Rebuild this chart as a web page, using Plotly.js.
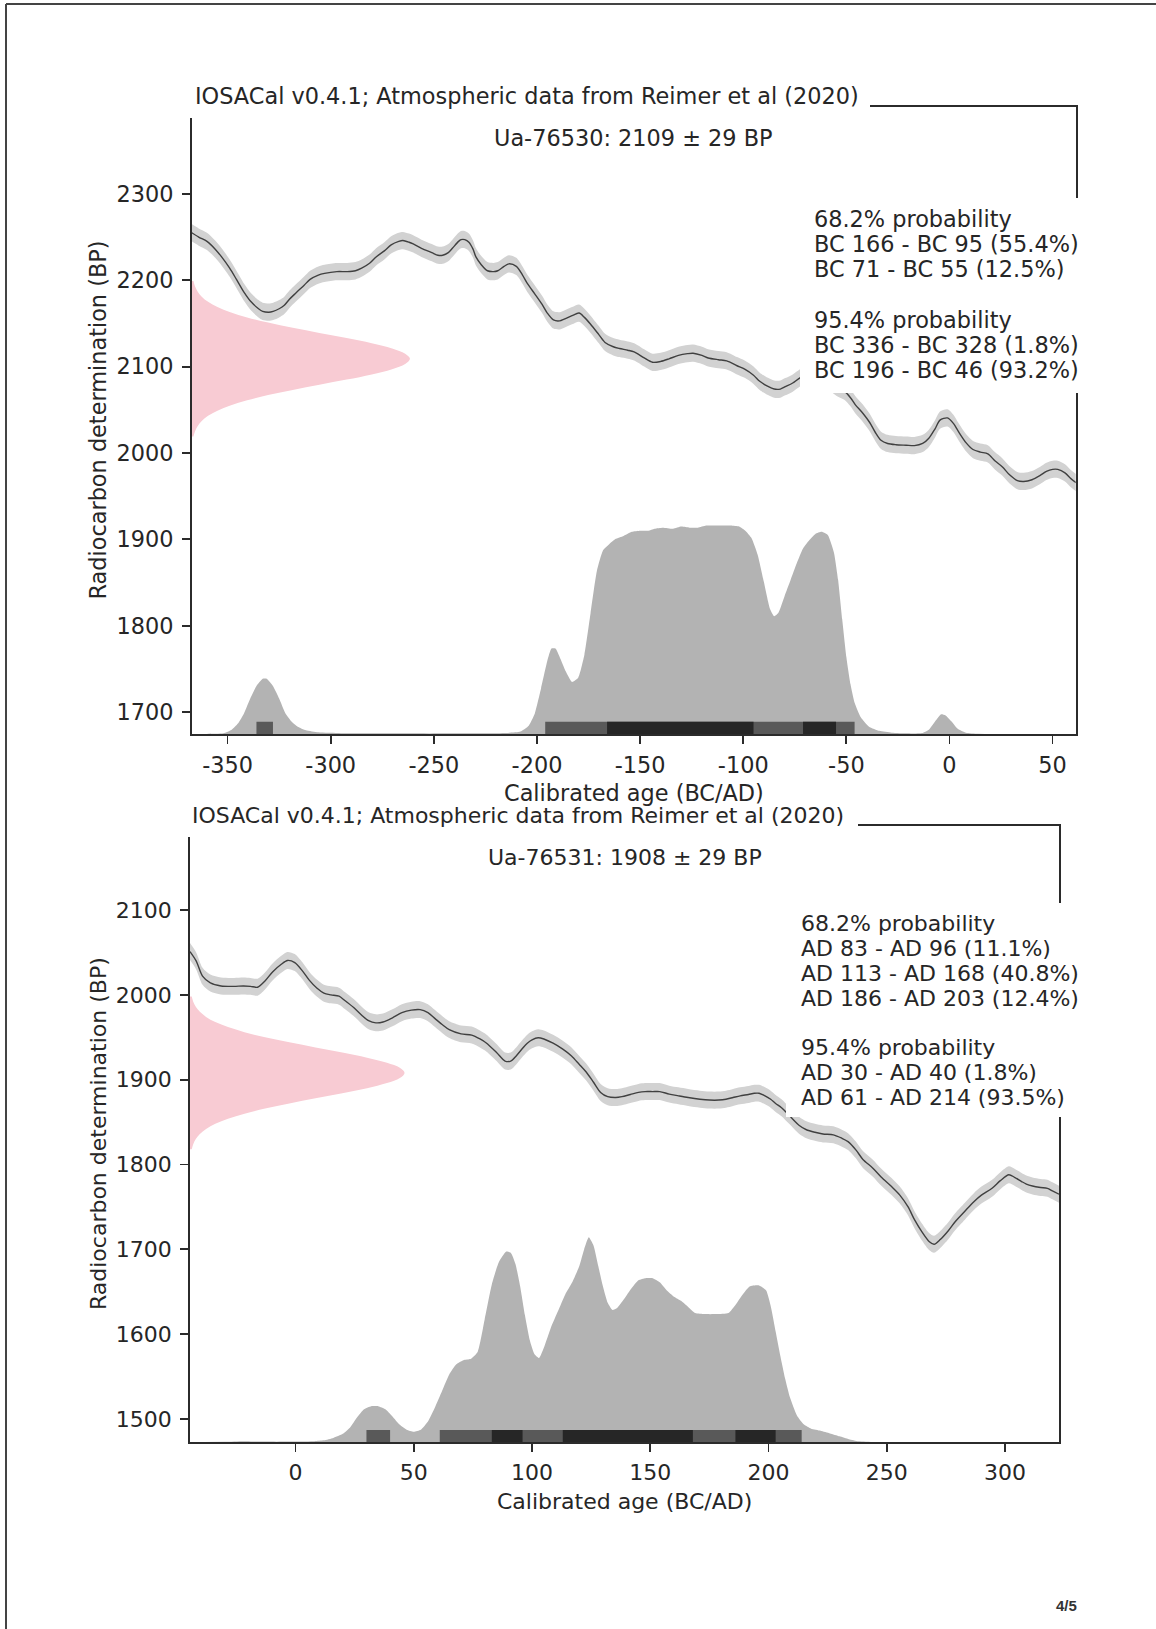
<!DOCTYPE html>
<html><head><meta charset="utf-8">
<script src="https://cdn.plot.ly/plotly-3.0.1.min.js"></script>
<style>html,body{margin:0;padding:0;background:#fff}</style>
</head><body><div id="chart" style="width:1156px;height:1629px"></div>
<script>
// ---------------- DATA ----------------
const titleText = "IOSACal v0.4.1; Atmospheric data from Reimer et al (2020)";
const xLabel = "Calibrated age (BC/AD)";
const yLabel = "Radiocarbon determination (BP)";

// Chart 1: Ua-76530
const sample1 = "Ua-76530: 2109 ± 29 BP";
const curve1Age = [-368,-364,-360,-356,-352.9,-349,-345.7,-342,-338.6,-335,-333,-330,-327.9,-325,-322.5,-320,-317,-313,-310,-306,-303,-297,-292,-288,-285,-281,-278,-274,-270.7,-267,-265,-262,-260,-256,-251,-248,-245.7,-243,-241,-238,-236.8,-235,-233,-231,-229.6,-227,-224,-221,-219,-216,-213.6,-210,-207,-204.6,-201,-197.5,-195,-192,-189,-186.8,-183,-179.6,-177,-174,-170,-167,-163,-160,-156,-152.9,-148,-144,-140,-136,-131.4,-127,-124.3,-120,-117,-112,-108,-103,-99.3,-95,-92,-88,-85,-82,-79.6,-76,-72.5,-69,-65,-61,-57,-54,-51,-48,-45.7,-42,-38.6,-36,-33.2,-30,-26,-21,-17,-13,-10,-7,-4.6,-1,2,4.3,8,11.4,15,18.6,22,25.7,29,32.9,36,40,44,47,50,52.5,56,59,61.4];
const curve1BP = [2256,2250,2245,2236,2227,2214,2201,2186,2175,2167,2164,2163,2164,2167,2171,2178,2185,2194,2201,2206,2208,2210,2210,2211,2214,2220,2227,2234,2241,2245,2246,2244,2242,2237,2232,2229,2229,2232,2237,2245,2247,2247,2244,2236,2227,2218,2211,2210,2211,2216,2219,2216,2206,2196,2184,2172,2162,2154,2153,2155,2159,2162,2157,2149,2137,2128,2123,2121,2119,2117,2110,2105,2106,2109,2113,2115,2115.5,2113,2110,2108,2106.7,2101,2097,2090,2083,2077,2074,2074,2076.7,2081,2087,2091,2093,2088,2080,2075,2071.6,2064,2056,2046,2035,2024,2014.7,2011,2009.6,2009,2008.5,2011,2017,2028,2038,2040.6,2034,2025,2012,2004,2001,1999,1991,1983.7,1975,1968,1967,1969,1974,1978.6,1981,1981,1977,1970,1965.6];
const curve1Err = 10;

const pink1BP = [2019,2025,2031,2037,2043,2049,2055,2061,2067,2073,2079,2085,2091,2097,2103,2109,2115,2121,2127,2133,2139,2145,2151,2157,2163,2169,2175,2181,2187,2193,2199];
const pink1W  = [0.008,0.015,0.027,0.046,0.075,0.118,0.177,0.254,0.35,0.463,0.585,0.71,0.825,0.918,0.978,1.0,0.978,0.918,0.825,0.71,0.585,0.463,0.35,0.254,0.177,0.118,0.075,0.046,0.027,0.015,0.008];

const dens1Age = [-367,-360,-352,-348,-345,-342,-339,-336,-333,-331,-328,-325,-322,-319,-316,-312,-306,-295,-270,-240,-215,-208,-204,-201,-198,-195,-193,-191,-189,-186,-183,-180,-177,-174,-171,-168,-165,-162,-158,-154,-150,-146,-143,-139,-134,-130,-126,-122,-118,-112,-106,-102,-99,-96,-93,-90,-87,-85,-83,-80,-77,-74,-71,-68,-65,-62,-59,-56,-54,-52,-50,-48,-46,-43,-39,-34,-28,-20,-13,-10,-7,-4,-2,1,4,8,14,61];
const dens1P   = [0,0,0.003,0.02,0.05,0.1,0.17,0.23,0.265,0.265,0.23,0.17,0.1,0.06,0.035,0.018,0.008,0.004,0.003,0.003,0.005,0.012,0.04,0.1,0.22,0.35,0.41,0.41,0.37,0.3,0.25,0.27,0.38,0.58,0.78,0.88,0.91,0.935,0.95,0.97,0.975,0.975,0.985,0.99,0.985,0.995,0.99,0.99,1.0,1.0,1.0,0.995,0.975,0.94,0.86,0.73,0.6,0.565,0.58,0.66,0.74,0.82,0.89,0.93,0.96,0.97,0.955,0.87,0.74,0.55,0.37,0.24,0.15,0.08,0.035,0.015,0.006,0.003,0.005,0.02,0.06,0.095,0.09,0.06,0.025,0.006,0.001,0];

const hpd1_95 = [[-336,-328],[-196,-46]];
const hpd1_68 = [[-166,-95],[-71,-55]];
const prob1Lines = ["68.2% probability","BC 166 - BC 95 (55.4%)","BC 71 - BC 55 (12.5%)","","95.4% probability","BC 336 - BC 328 (1.8%)","BC 196 - BC 46 (93.2%)"];
const x1Ticks = [-350,-300,-250,-200,-150,-100,-50,0,50];
const x1TickText = ["-350","-300","-250","-200","-150","-100","-50","0","50"];
const y1Ticks = [1700,1800,1900,2000,2100,2200,2300];
const y1TickText = ["1700","1800","1900","2000","2100","2200","2300"];

// Chart 2: Ua-76531
const sample2 = "Ua-76531: 1908 ± 29 BP";
const curve2Age = [-44.6,-42,-39.3,-36,-31.5,-26,-22,-19,-16,-13,-9.7,-6,-3.4,-0.3,3,5.9,9,12,15,18.4,21,24.6,28,30.9,34,37,41,45,49,52.7,56,59,62,65,70,74.5,78,80.8,85,88.6,91,93.3,96,98,100,102.6,105,108.9,113,116.7,120,122.9,126,129,132,135.4,138,141.6,145,147.8,151,154,158,161.9,166,171,175,179,182,185,188,191.5,194,196,198.5,200.9,203,205.5,208.7,213,216,219.6,223,227.4,231,233.6,237,239.9,244,247.7,252,255.5,259,261.7,265,268,270,272.6,276,278.9,283,286.7,290,294.5,298,301.6,304,307,309,311.6,315,317.9,320,322.8];
const curve2BP = [2051,2040,2022,2014,2010.5,2010,2010.5,2010,2009,2016,2027,2036,2040.5,2038,2028,2017,2008,2002,2000,1998.4,1993,1985,1976,1969.5,1967,1968,1973,1979,1982,1982.6,1979,1972,1965,1959,1954,1952.6,1948,1943,1932,1922,1922,1928,1937,1943,1947,1949.5,1948,1943,1936,1928,1918,1909,1897,1885,1880,1879,1880,1882.6,1885,1886,1886,1886,1883,1881,1879,1877,1876,1876,1877,1879,1881,1882.6,1884,1884,1881,1877,1872,1867,1858,1846,1841,1838,1836,1835,1831,1827,1817,1806,1796,1785,1774,1764,1750,1735,1720,1709,1706,1711.6,1722,1732.6,1745,1756,1764,1772,1781,1788,1785,1780,1777,1774.7,1773,1772,1769,1765];
const curve2Err = 10;

const pink2BP = [1818,1824,1830,1836,1842,1848,1854,1860,1866,1872,1878,1884,1890,1896,1902,1908,1914,1920,1926,1932,1938,1944,1950,1956,1962,1968,1974,1980,1986,1992,1998];
const pink2W  = [0.008,0.015,0.027,0.046,0.075,0.118,0.177,0.254,0.35,0.463,0.585,0.71,0.825,0.918,0.978,1.0,0.978,0.918,0.825,0.71,0.585,0.463,0.35,0.254,0.177,0.118,0.075,0.046,0.027,0.015,0.008];

const dens2Age = [-44,-30,-22,-15,0,8,12,16,20,23,26,29,32,35,38,41,44,47,50,53,56,59,62,65,68,71,74,77,80,83,86,89,91,93,95,97,99,101,103,105,108,111,114,117,120,122,124,126,128,130,132,134,136,139,142,145,148,151,154,157,160,163,166,169,173,178,183,186,189,192,196,199,201,203,205,207,209,212,215,218,222,226,230,234,238,245,322];
const dens2P   = [0,0.001,0.004,0.002,0.002,0.004,0.008,0.02,0.04,0.07,0.12,0.16,0.175,0.175,0.16,0.125,0.085,0.06,0.05,0.06,0.1,0.17,0.25,0.33,0.38,0.4,0.405,0.44,0.6,0.77,0.88,0.93,0.925,0.87,0.76,0.62,0.5,0.43,0.41,0.46,0.56,0.64,0.72,0.78,0.86,0.94,1.0,0.96,0.86,0.76,0.68,0.645,0.655,0.7,0.75,0.79,0.8,0.8,0.78,0.74,0.71,0.69,0.66,0.63,0.625,0.625,0.63,0.67,0.72,0.76,0.765,0.74,0.66,0.54,0.42,0.31,0.22,0.13,0.085,0.065,0.055,0.042,0.028,0.014,0.004,0,0];

const hpd2_95 = [[30,40],[61,214]];
const hpd2_68 = [[83,96],[113,168],[186,203]];
const prob2Lines = ["68.2% probability","AD 83 - AD 96 (11.1%)","AD 113 - AD 168 (40.8%)","AD 186 - AD 203 (12.4%)","","95.4% probability","AD 30 - AD 40 (1.8%)","AD 61 - AD 214 (93.5%)"];
const x2Ticks = [0,50,100,150,200,250,300];
const x2TickText = ["0","50","100","150","200","250","300"];
const y2Ticks = [1500,1600,1700,1800,1900,2000,2100];
const y2TickText = ["1500","1600","1700","1800","1900","2000","2100"];

const pageLabel = "4/5";

// ---------------- LAYOUT / DRAWING ----------------
const W = 1156, H = 1629;
const px = v => v / W;
const py = v => 1 - v / H;
const FONT = "DejaVu Sans";
const TXT = "#262626";
const AX = "#2b2b2b";

function band(age, bp, err, xa, ya) {
  return [
    {x: age, y: bp.map(v => v + err), xaxis: xa, yaxis: ya, mode: "lines",
     line: {width: 0, shape: "spline", smoothing: 0.8}, hoverinfo: "skip", showlegend: false},
    {x: age, y: bp.map(v => v - err), xaxis: xa, yaxis: ya, mode: "lines", fill: "tonexty",
     fillcolor: "#d2d2d2", line: {width: 0, shape: "spline", smoothing: 0.8}, hoverinfo: "skip", showlegend: false},
    {x: age, y: bp, xaxis: xa, yaxis: ya, mode: "lines",
     line: {color: "#404040", width: 1.4, shape: "spline", smoothing: 0.8}, showlegend: false}
  ];
}
function hpdTrace(intervals, ya, xa, color, h) {
  const xs = [], ys = [];
  intervals.forEach(([a, b]) => { xs.push(a, a, b, b, a, null); ys.push(0, h, h, 0, 0, null); });
  return {x: xs, y: ys, xaxis: xa, yaxis: ya, mode: "lines", fill: "toself", fillcolor: color,
          line: {width: 0}, hoverinfo: "skip", showlegend: false};
}

const BAR_H = 0.059; // bar height in density-axis units (~2% of axes)
const traces = [
  {x: pink1W, y: pink1BP, xaxis: "x3", yaxis: "y", mode: "lines", fill: "tozerox", fillcolor: "#f8cbd3",
   line: {width: 0, shape: "spline"}, showlegend: false},
  ...band(curve1Age, curve1BP, curve1Err, "x", "y"),
  {x: dens1Age, y: dens1P, xaxis: "x", yaxis: "y3", mode: "lines", fill: "tozeroy", fillcolor: "#b3b3b3",
   line: {width: 0, shape: "spline", smoothing: 0.5}, showlegend: false},
  hpdTrace(hpd1_95, "y3", "x", "#595959", BAR_H),
  hpdTrace(hpd1_68, "y3", "x", "#262626", BAR_H),

  {x: pink2W, y: pink2BP, xaxis: "x4", yaxis: "y2", mode: "lines", fill: "tozerox", fillcolor: "#f8cbd3",
   line: {width: 0, shape: "spline"}, showlegend: false},
  ...band(curve2Age, curve2BP, curve2Err, "x2", "y2"),
  {x: dens2Age, y: dens2P, xaxis: "x2", yaxis: "y4", mode: "lines", fill: "tozeroy", fillcolor: "#b3b3b3",
   line: {width: 0, shape: "spline", smoothing: 0.5}, showlegend: false},
  hpdTrace(hpd2_95, "y4", "x2", "#595959", BAR_H),
  hpdTrace(hpd2_68, "y4", "x2", "#262626", BAR_H)
];

// plot frames (pixels)
const P1 = {l: 191.7, r: 1075.7, t: 107, b: 734, fs: 22.4};
const P2 = {l: 190, r: 1059, t: 826, b: 1442, fs: 22.0};

function mainX(P, ticks, text, rng, anchor) {
  return {domain: [px(P.l), px(P.r)], range: rng, anchor: anchor, showline: true, mirror: true,
          linecolor: AX, linewidth: 1.8, ticks: "outside", ticklen: 8, tickwidth: 1.8, tickcolor: AX,
          tickvals: ticks, ticktext: text, showgrid: false, zeroline: false,
          tickfont: {family: FONT, size: P.fs, color: TXT}, ticklabelstandoff: 2};
}
function mainY(P, ticks, text, rng, anchor) {
  return {domain: [py(P.b), py(P.t)], range: rng, anchor: anchor, showline: true, mirror: true,
          linecolor: AX, linewidth: 1.8, ticks: "outside", ticklen: 8, tickwidth: 1.8, tickcolor: AX,
          tickvals: ticks, ticktext: text, showgrid: false, zeroline: false,
          tickfont: {family: FONT, size: P.fs, color: TXT}, ticklabelstandoff: 4};
}

const annotations = [];
const shapes = [];
function addText(text, x, y, size, opts) {
  annotations.push(Object.assign({text: text, x: px(x), y: py(y), xref: "paper", yref: "paper",
    showarrow: false, font: {family: FONT, size: size, color: TXT}, xanchor: "center", yanchor: "middle"}, opts || {}));
}
function whiteBox(x0, y0, x1, y1) {
  shapes.push({type: "rect", xref: "paper", yref: "paper", x0: px(x0), x1: px(x1), y0: py(y1), y1: py(y0),
    fillcolor: "#ffffff", line: {width: 0}, layer: "above"});
}

// chart 1 decorations
whiteBox(184, 76, 870, 118);
addText(titleText, 193, 96, P1.fs, {xanchor: "left"});
addText(sample1, (P1.l + P1.r) / 2, 138, P1.fs);
whiteBox(800, 198, 1086, 393);
prob1Lines.forEach((t, i) => { if (t) addText(t, 811.5, 218.5 + 25.3 * i, P1.fs, {xanchor: "left"}); });
addText(xLabel, (P1.l + P1.r) / 2, 793, P1.fs);
addText(yLabel, 98, (P1.t + P1.b) / 2, P1.fs, {textangle: -90});

// chart 2 decorations
whiteBox(183, 795, 858, 837);
addText(titleText, 190.3, 815, P2.fs, {xanchor: "left"});
addText(sample2, (P2.l + P2.r) / 2, 857, P2.fs);
whiteBox(786, 903, 1068, 1117);
prob2Lines.forEach((t, i) => { if (t) addText(t, 798.7, 923.7 + 24.85 * i, P2.fs, {xanchor: "left"}); });
addText(xLabel, (P2.l + P2.r) / 2, 1501, P2.fs);
addText(yLabel, 98, (P2.t + P2.b) / 2, P2.fs, {textangle: -90});

// page frame and page number
shapes.push({type: "line", xref: "paper", yref: "paper", x0: px(6), x1: 1, y0: py(4), y1: py(4), line: {color: "#444", width: 2}});
shapes.push({type: "line", xref: "paper", yref: "paper", x0: px(6), x1: px(6), y0: py(4), y1: 0, line: {color: "#444", width: 2}});
annotations.push({text: "<b>" + pageLabel + "</b>", x: px(1066), y: py(1605), xref: "paper", yref: "paper", showarrow: false,
  font: {family: "Liberation Sans", size: 15, color: "#333"}, xanchor: "center", yanchor: "middle"});

const layout = {
  width: W, height: H, margin: {l: 0, r: 0, t: 0, b: 0},
  paper_bgcolor: "#fff", plot_bgcolor: "rgba(0,0,0,0)", showlegend: false,
  xaxis: mainX(P1, x1Ticks, x1TickText, [-367.4, 61.2], "y"),
  yaxis: mainY(P1, y1Ticks, y1TickText, [1674.6, 2400.6], "x"),
  xaxis3: {domain: [px(P1.l), px(P1.r)], overlaying: "x", anchor: "y", range: [0, 4.05], visible: false},
  yaxis3: {domain: [py(P1.b), py(P1.t)], overlaying: "y", anchor: "x", range: [0, 3.008], visible: false},
  xaxis2: mainX(P2, x2Ticks, x2TickText, [-44.6, 322.8], "y2"),
  yaxis2: mainY(P2, y2Ticks, y2TickText, [1473, 2199], "x2"),
  xaxis4: {domain: [px(P2.l), px(P2.r)], overlaying: "x2", anchor: "y2", range: [0, 4.05], visible: false},
  yaxis4: {domain: [py(P2.b), py(P2.t)], overlaying: "y2", anchor: "x2", range: [0, 3.01], visible: false},
  annotations: annotations, shapes: shapes
};

Plotly.newPlot("chart", traces, layout, {staticPlot: true, displayModeBar: false});
</script></body></html>
